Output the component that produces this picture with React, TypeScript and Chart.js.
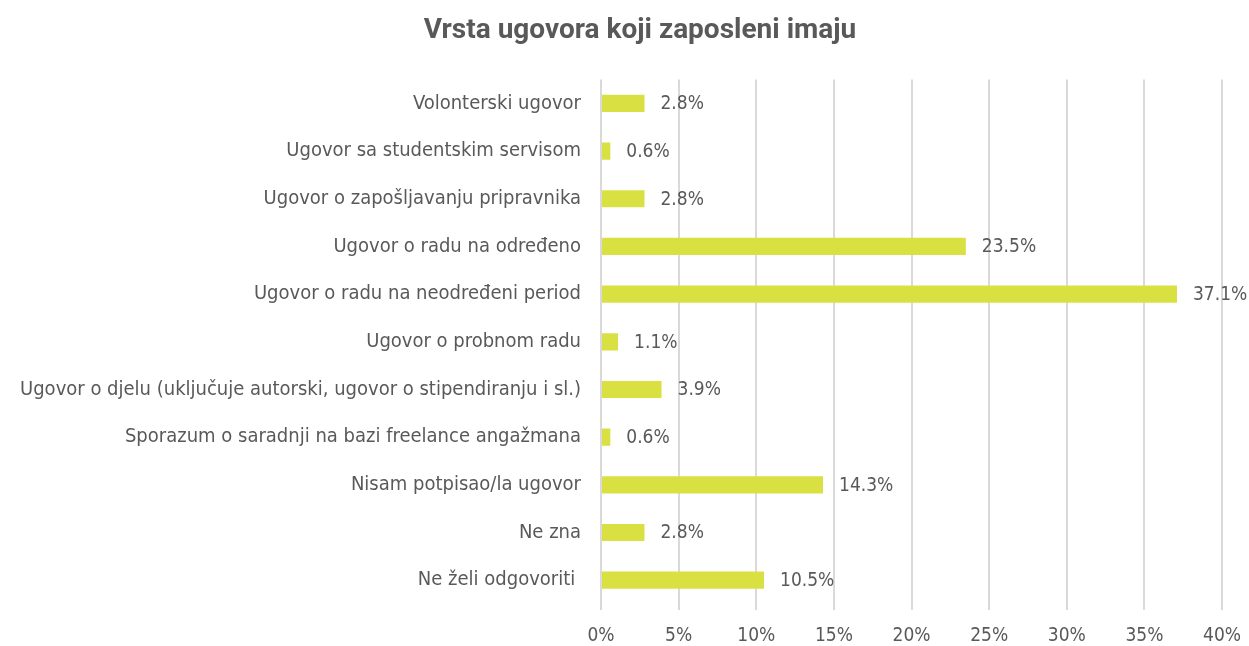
import React, { useEffect, useRef } from "react";
import { Chart, registerables } from "chart.js";

Chart.register(...registerables);

const categories = [
  "Volonterski ugovor",
  "Ugovor sa studentskim servisom",
  "Ugovor o zapošljavanju pripravnika",
  "Ugovor o radu na određeno",
  "Ugovor o radu na neodređeni period",
  "Ugovor o probnom radu",
  "Ugovor o djelu (uključuje autorski, ugovor o stipendiranju i sl.)",
  "Sporazum o saradnji na bazi freelance angažmana",
  "Nisam potpisao/la ugovor",
  "Ne zna",
  "Ne želi odgovoriti ",
];

const values = [2.8, 0.6, 2.8, 23.5, 37.1, 1.1, 3.9, 0.6, 14.3, 2.8, 10.5];

const title = "Vrsta ugovora koji zaposleni imaju";

const TEXT = "#595959";
const LABEL_FONT = "'Liberation Sans Narrow', 'DejaVu Sans Condensed', sans-serif";

const valueLabels = {
  id: "valueLabels",
  afterLayout(chart: any) {
    const t = chart.titleBlock;
    if (t) {
      t.left += 29;
      t.right += 29;
    }
  },
  afterDatasetsDraw(chart: any) {
    const ctx = chart.ctx;
    const meta = chart.getDatasetMeta(0);
    ctx.save();
    ctx.fillStyle = TEXT;
    ctx.font = `19px ${LABEL_FONT}`;
    ctx.textAlign = "left";
    ctx.textBaseline = "middle";
    meta.data.forEach((bar: any, i: number) => {
      ctx.fillText(values[i].toFixed(1) + "%", bar.x + 16, bar.y + 1);
    });
    ctx.restore();
  },
};

export default function App() {
  const ref = useRef<HTMLCanvasElement>(null);
  useEffect(() => {
    document.body.style.margin = "0";
    const chart = new Chart(ref.current!, {
      type: "bar",
      data: {
        labels: categories,
        datasets: [
          {
            data: values,
            backgroundColor: "#d9e142",
            barPercentage: 0.36,
            categoryPercentage: 1,
          },
        ],
      },
      options: {
        indexAxis: "y",
        animation: false,
        responsive: false,
        layout: { padding: { left: 0, right: 27, top: 0, bottom: 0 } },
        plugins: {
          legend: { display: false },
          tooltip: { enabled: false },
          title: {
            display: true,
            text: title,
            color: TEXT,
            font: { family: "Roboto", size: 28, weight: "bold" },
            padding: { top: 14, bottom: 32 },
          },
        },
        scales: {
          x: {
            min: 0,
            max: 40,
            ticks: {
              stepSize: 5,
              color: TEXT,
              font: { family: LABEL_FONT, size: 19 },
              padding: 15,
              callback: (v: any) => v + "%",
            },
            grid: { color: "#d9d9d9", lineWidth: 2, tickLength: 6, drawTicks: true },
            border: { display: false },
            afterFit: (s: any) => {
              s.height = 42;
              s.paddingRight = 0;
              s.paddingLeft = 0;
            },
          },
          y: {
            ticks: {
              color: TEXT,
              font: { family: LABEL_FONT, size: 20 },
              padding: 20,
            },
            grid: { display: false, drawTicks: false },
            border: { display: false },
            afterFit: (s: any) => {
              s.width = 601;
              s.paddingTop = 0;
              s.paddingBottom = 0;
            },
          },
        },
      },
      plugins: [valueLabels],
    });
    return () => chart.destroy();
  }, []);
  return (
    <div style={{ width: 1249, height: 646 }}>
      <canvas ref={ref} width={1249} height={646} />
    </div>
  );
}
